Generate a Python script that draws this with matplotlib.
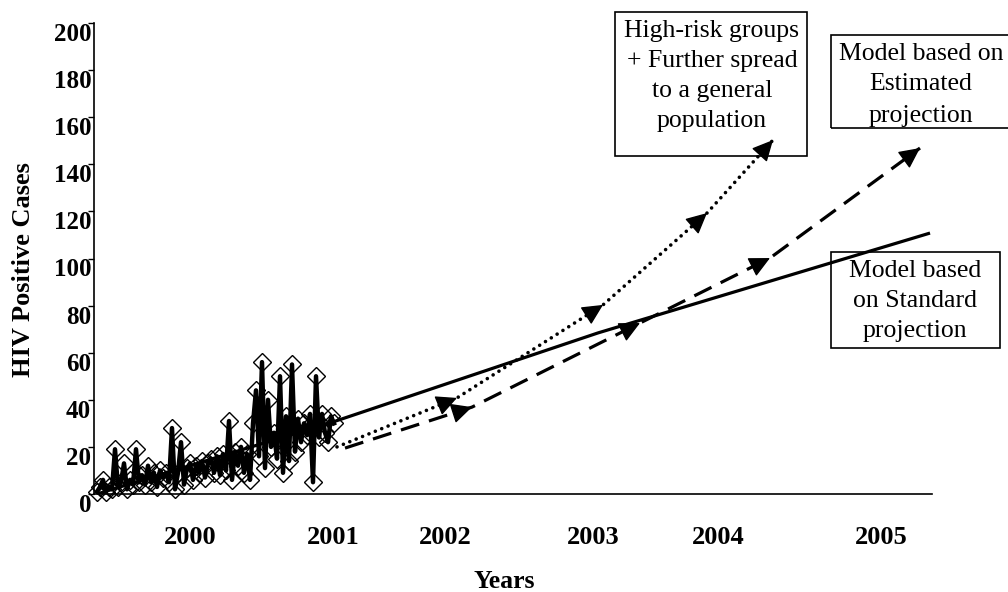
import numpy as np
import matplotlib
matplotlib.use("Agg")
import matplotlib.pyplot as plt
from matplotlib.patches import Rectangle

plt.rcParams['font.family'] = ['Liberation Serif', 'DejaVu Serif']

W, H = 1008, 592

# observed weekly cases (time index in weeks)
cases_t = list(range(80))
cases = [1, 3, 6, 1, 3, 2, 19, 3, 5, 13,
         2, 6, 4, 19, 5, 8, 4, 12, 5, 9,
         3, 10, 7, 9, 5, 28, 2, 9, 22, 4,
         11, 13, 6, 12, 9, 14, 7, 13, 15, 9,
         16, 8, 17, 10, 31, 6, 18, 12, 20, 9,
         17, 6, 30, 44, 16, 56, 11, 40, 20, 26,
         15, 50, 9, 33, 14, 55, 18, 32, 22, 30,
         25, 34, 5, 50, 24, 34, 26, 22, 33, 30]

# standard projection (trend)
trend_t = [0, 78.67, 167, 277.67]
trend_v = [0, 30.6, 68.4, 110.8]

# high-risk groups + further spread projection
high_t = [80, 120, 168.67, 203.33, 225.33]
high_v = [20, 40.8, 80.3, 119.3, 150.3]

# estimated projection
est_t = [82.67, 125, 181, 224.33, 274.33]
est_v = [19.5, 36.9, 72.6, 100.2, 146.9]

year_pos = [31, 78.67, 116, 165.33, 207, 261.33]
year_labels = ['2000', '2001', '2002', '2003', '2004', '2005']
y_ticks = list(range(0, 201, 20))

fig = plt.figure(figsize=(W / 100, H / 100), dpi=100)
ax = fig.add_axes([94 / W, 1 - 494 / H, (932 - 94) / W, (494 - 23) / H])

ax.set_xlim(-1, 278.33)
ax.set_ylim(0, 200)

for s in ['top', 'right']:
    ax.spines[s].set_visible(False)
for s in ['left', 'bottom']:
    ax.spines[s].set_linewidth(1.2)
    ax.spines[s].set_color('black')

ax.set_yticks(y_ticks)
ax.set_yticklabels([str(v) for v in y_ticks], fontsize=18, fontweight='bold')
ax.tick_params(axis='y', direction='out', length=4, width=1, pad=-2)
for lab in ax.get_yticklabels():
    lab.set_verticalalignment('top')

ax.set_xticks(year_pos)
ax.set_xticklabels(year_labels, fontsize=19, fontweight='bold')
ax.tick_params(axis='x', length=0, pad=23)

# observed data
ax.plot(cases_t, cases, color='black', lw=3.2, marker='D', markersize=9.5,
        mfc='none', mec='black', mew=1, clip_on=False, zorder=3)

# trend line
ax.plot(trend_t, trend_v, color='black', lw=2.3, solid_capstyle='butt', zorder=4)

# dotted projection
ax.plot(high_t, high_v, color='black', lw=2.6, linestyle=(0, (0.01, 1.9)),
        dash_capstyle='round', zorder=4)
# dashed projection
ax.plot(est_t, est_v, color='black', lw=2.3, linestyle=(0, (6, 3.2)),
        dash_capstyle='butt', zorder=4)


def add_heads(ts, vs):
    for k in range(1, len(ts)):
        dt = ts[k] - ts[k - 1]
        dv = vs[k] - vs[k - 1]
        ax.annotate('', xy=(ts[k], vs[k]),
                    xytext=(ts[k] - 0.03 * dt, vs[k] - 0.03 * dv),
                    arrowprops=dict(arrowstyle='-|>,head_length=0.65,head_width=0.32',
                                    mutation_scale=20, color='black', lw=1,
                                    shrinkA=0, shrinkB=0),
                    zorder=5)


add_heads(high_t, high_v)
add_heads(est_t, est_v)

# axis titles
fig.text(24 / W, 1 - 270 / H, 'HIV Positive Cases', rotation=90, ha='center',
         va='center', fontsize=19, fontweight='bold')
fig.text(504 / W, 1 - 581 / H, 'Years', ha='center', va='center',
         fontsize=18.5, fontweight='bold')


def box(x0, y0, x1, y1):
    fig.add_artist(Rectangle((x0 / W, 1 - y1 / H), (x1 - x0) / W, (y1 - y0) / H,
                             transform=fig.transFigure, fill=False,
                             edgecolor='black', lw=1.2, clip_on=False, zorder=6))


def lines(cx, baselines, texts, size=18.5):
    for b, t in zip(baselines, texts):
        fig.text(cx / W, 1 - b / H, t, ha='center', va='baseline', fontsize=size,
                 zorder=7)


box(615, 12, 807, 156)
lines(712, [37, 67, 97, 127],
      ['High-risk groups', '+ Further spread', 'to a general', 'population'])

box(831, 35, 1012, 128)
lines(921, [60, 90, 122], ['Model based on', 'Estimated', 'projection'])

box(831, 252, 1000, 348)
lines(915, [277, 307, 337], ['Model based', 'on Standard', 'projection'])

fig.savefig('out.png', dpi=100)
